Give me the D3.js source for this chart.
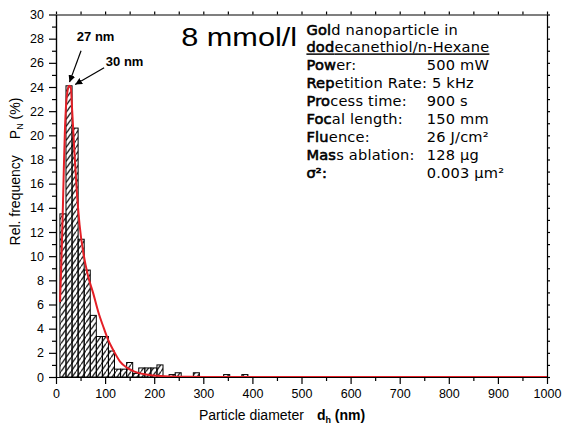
<!DOCTYPE html>
<html lang="en">
<head>
<meta charset="utf-8">
<script src="https://cdn.jsdelivr.net/npm/d3@7"></script>
<style>
  body { margin: 0; background: #fff; }
  text { font-family: Arial, "Liberation Sans", sans-serif; }
  .info text { font-family: "DejaVu Sans", Verdana, sans-serif; font-size: 14.6px; letter-spacing: 0.2px; }
</style>
</head>
<body>
<svg id="chart" width="564" height="432"></svg>
<script>

// histogram bins: left edge (nm) and relative frequency (%)
var binLeft = [8, 20.35, 32.7, 45.05, 57.4, 69.75, 82.1, 94.45, 106.8, 119.15, 131.5,
               143.85, 156.2, 168.55, 180.9, 193.25, 205.6, 230.3, 242.65, 279.7, 341.45, 378.5];
var relFreq = [13.5, 24.1, 20.6, 11.4, 8.85, 5.1, 3.35, 3.35, 2.15, 0.65, 0.65,
               1.2, 0.3, 0.75, 0.75, 0.75, 1.0, 0.2, 0.35, 0.35, 0.2, 0.2];
var binWidth = 12.35;

// fitted distribution
var fitX = [8.2, 10, 12, 14, 16, 18, 21, 24, 27, 30, 33, 37, 42, 48, 56, 65, 76, 86, 96,
            106, 117, 130, 145, 160, 180, 200, 230, 270, 320, 1000];
var fitY = [6.2, 8.3, 11, 14, 17.3, 20.2, 22.8, 23.8, 24.1, 24.0, 22.0, 19.0, 15.6, 12.6, 10.2,
            8.4, 6.9, 5.4, 4.2, 3.1, 2.2, 1.3, 0.75, 0.45, 0.22, 0.12, 0.05, 0.02, 0, 0];

var xTicks = [0, 100, 200, 300, 400, 500, 600, 700, 800, 900, 1000];
var yTicks = [0, 2, 4, 6, 8, 10, 12, 14, 16, 18, 20, 22, 24, 26, 28, 30];

// info box lines: [bold part, rest of label, value in column]
var infoLabels = [["Pow", "er:", "500 mW"],
                  ["Rep", "etition Rate: 5 kHz", ""],
                  ["Pro", "cess time:", "900 s"],
                  ["Foc", "al length:", "150 mm"],
                  ["Flu", "ence:", "26 J/cm²"],
                  ["Mas", "s ablation:", "128 µg"],
                  ["σ²:", "", "0.003 µm²"]];

// annotations in data units: text pos, arrow tail, arrow head
var notes = [{label: "27 nm", tx: 42.5, ty: 27.8, x1: 51, y1: 27.0, x2: 27.5, y2: 24.4},
             {label: "30 nm", tx: 101.5, ty: 25.75, x1: 98, y1: 25.6, x2: 39, y2: 24.2}];

var margin = {top: 14.5, right: 17, bottom: 55, left: 56},
    width = 564 - margin.left - margin.right,
    height = 432 - margin.top - margin.bottom;

var svg = d3.select("#chart");

var defs = svg.append("defs");
defs.append("pattern")
    .attr("id", "hatch")
    .attr("patternUnits", "userSpaceOnUse")
    .attr("width", 5).attr("height", 7)
  .append("path")
    .attr("d", "M-1,8.4 L6,-1.4")
    .attr("stroke", "#000")
    .attr("stroke-width", 1.2);
defs.append("marker")
    .attr("id", "arrow")
    .attr("viewBox", "0 0 10 10")
    .attr("refX", 10).attr("refY", 5)
    .attr("markerWidth", 7).attr("markerHeight", 7)
    .attr("markerUnits", "userSpaceOnUse")
    .attr("orient", "auto")
  .append("path")
    .attr("d", "M0,0 L10,5 L0,10 z")
    .attr("fill", "#000");

var g = svg.append("g")
    .attr("transform", `translate(${margin.left},${margin.top})`);

var x = d3.scaleLinear().domain([0, 1000]).range([0, width]);
var y = d3.scaleLinear().domain([0, 30]).range([height, 0]);

// bars
g.selectAll("rect.bar")
  .data(binLeft)
  .enter()
  .append("rect")
    .attr("class", "bar")
    .attr("x", function(d) { return x(d); })
    .attr("width", function(d) { return x(d + binWidth) - x(d); })
    .attr("y", function(d, i) { return y(relFreq[i]); })
    .attr("height", function(d, i) { return height - y(relFreq[i]); })
    .attr("fill", "url(#hatch)")
    .attr("stroke", "#000")
    .attr("stroke-width", 1);

// fit curve
var line = d3.line()
    .x(function(d) { return x(d); })
    .y(function(d, i) { return y(fitY[i]); })
    .curve(d3.curveMonotoneX);
g.append("path")
    .attr("d", line(fitX))
    .attr("fill", "none")
    .attr("stroke", "#e41f26")
    .attr("stroke-width", 2);

// axes
function styleAxis(sel) {
  sel.selectAll("path.domain").attr("stroke", "#000").attr("stroke-width", 1.2);
  sel.selectAll(".tick line").attr("stroke", "#000").attr("stroke-width", 1.2);
  sel.selectAll("text").attr("font-size", "12.5px").attr("fill", "#000")
     .attr("font-family", "Arial, 'Liberation Sans', sans-serif");
}

g.append("g")
    .attr("transform", `translate(0,${height})`)
    .call(d3.axisBottom(x).tickValues(d3.range(50, 1000, 100)).tickSize(4).tickFormat("").tickSizeOuter(0))
    .call(styleAxis);
g.append("g")
    .attr("transform", `translate(0,${height})`)
    .call(d3.axisBottom(x).tickValues(xTicks).tickSize(7).tickPadding(5).tickFormat(d3.format("d")).tickSizeOuter(0))
    .call(styleAxis);
g.append("g")
    .call(d3.axisTop(x).tickValues(d3.range(0, 1001, 50)).tickSize(3).tickFormat("").tickSizeOuter(0))
    .call(styleAxis);
g.append("g")
    .call(d3.axisLeft(y).tickValues(d3.range(1, 30, 2)).tickSize(4).tickFormat("").tickSizeOuter(0))
    .call(styleAxis);
g.append("g")
    .call(d3.axisLeft(y).tickValues(yTicks).tickSize(7).tickPadding(5).tickSizeOuter(0))
    .call(styleAxis);
g.append("g")
    .attr("transform", `translate(${width},0)`)
    .call(d3.axisRight(y).tickValues(d3.range(0, 31, 1)).tickSize(3).tickFormat("").tickSizeOuter(0))
    .call(styleAxis);

// axis titles
var xt = svg.append("text")
    .attr("x", margin.left + x(291))
    .attr("y", 420)
    .attr("font-size", "14px");
xt.append("tspan").text("Particle diameter");
xt.append("tspan").attr("dx", 13).attr("font-weight", "bold").text("d");
xt.append("tspan").attr("font-weight", "bold").attr("font-size", "9px").attr("dy", 3).text("h");
xt.append("tspan").attr("font-weight", "bold").attr("dy", -3).text(" (nm)");

var yt = svg.append("text")
    .attr("transform", `translate(20,${margin.top + y(17)}) rotate(-90)`)
    .attr("font-size", "14px")
    .attr("text-anchor", "middle");
yt.append("tspan").text("Rel. frequency");
yt.append("tspan").attr("dx", 16).text("P");
yt.append("tspan").attr("font-size", "9px").attr("dy", 3).text("N");
yt.append("tspan").attr("dy", -3).text(" (%)");

// big label
g.append("text")
    .attr("x", x(255))
    .attr("y", y(27.4))
    .attr("font-size", "26px")
    .attr("textLength", 116)
    .attr("lengthAdjust", "spacingAndGlyphs")
    .text("8 mmol/l");

// info block
var info = g.append("g").attr("class", "info");
var infoX = x(510), valX = x(755), lineH = 17.9, top0 = 20;
var t1 = info.append("text").attr("x", infoX).attr("y", top0);
t1.append("tspan").attr("stroke", "#000").attr("stroke-width", 0.6).text("Gol");
t1.append("tspan").text("d nanoparticle in");
var t2 = info.append("text").attr("x", infoX).attr("y", top0 + lineH)
    .style("text-decoration", "underline");
t2.append("tspan").attr("stroke", "#000").attr("stroke-width", 0.6).text("dod");
t2.append("tspan").text("ecanethiol/n-Hexane");
infoLabels.forEach(function(r, i) {
  var t = info.append("text").attr("x", infoX).attr("y", top0 + lineH * (i + 2));
  t.append("tspan").attr("stroke", "#000").attr("stroke-width", 0.6).text(r[0]);
  t.append("tspan").text(r[1]);
  if (r[2]) {
    info.append("text").attr("x", valX).attr("y", top0 + lineH * (i + 2)).text(r[2]);
  }
});

// annotations
notes.forEach(function(n) {
  g.append("text")
      .attr("x", x(n.tx))
      .attr("y", y(n.ty))
      .attr("font-size", "13px")
      .attr("font-weight", "bold")
      .text(n.label);
  g.append("line")
      .attr("x1", x(n.x1)).attr("y1", y(n.y1))
      .attr("x2", x(n.x2)).attr("y2", y(n.y2))
      .attr("stroke", "#000")
      .attr("stroke-width", 1.2)
      .attr("marker-end", "url(#arrow)");
});

</script>
</body>
</html>
